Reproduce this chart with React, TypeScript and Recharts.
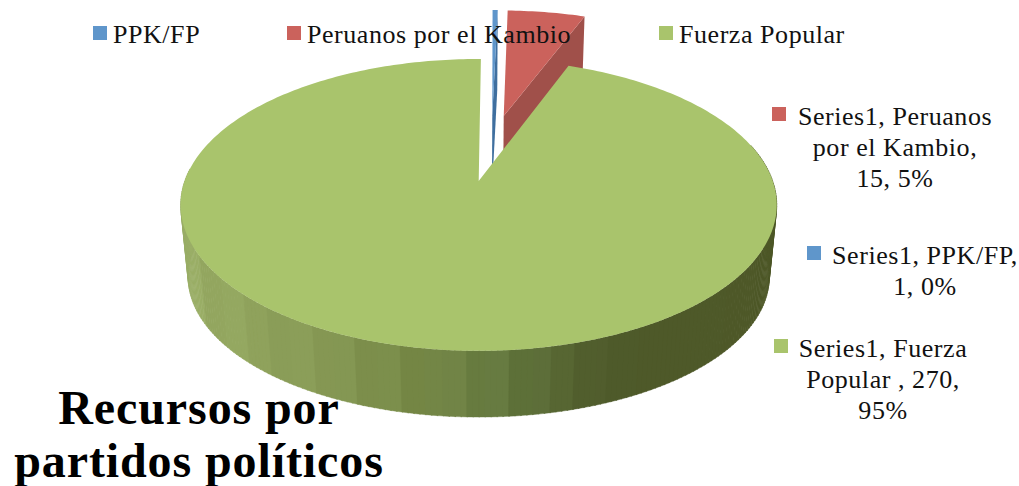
import React from 'react';
import { PieChart, Pie, Cell, Legend } from 'recharts';

const PARTIES = ['PPK/FP', 'Peruanos por el Kambio', 'Fuerza Popular'];
const RESOURCES = [1, 15, 270];
const PERCENT_LABELS = ['0%', '5%', '95%'];
const LABEL_LINES = [
  ['Series1, PPK/FP,', '1, 0%'],
  ['Series1, Peruanos', 'por el Kambio,', '15, 5%'],
  ['Series1, Fuerza', 'Popular , 270,', '95%'],
];
const COLORS = ['#5f96cb', '#cb625c', '#a9c46c'];
const TITLE_LINES = ['Recursos por', 'partidos políticos'];

const data = PARTIES.map((name, i) => ({ name, value: RESOURCES[i], percentLabel: PERCENT_LABELS[i] }));

const FONT = '"Liberation Serif", serif';
const WIDTH = 1019;
const HEIGHT = 486;

// perspective of the pie plane
const PERSP = 0.164;
const RY = 142;

// where the label of each slice sits
const LABEL_POS = [
  { x: 925, y: 264, sx: 807, sy: 246 },
  { x: 895, y: 125, sx: 772, sy: 107 },
  { x: 883, y: 357, sx: 774, sy: 339 },
];
const LEGEND_POS = [93, 287, 659];

// exploded slices, in pie-plane units
const EXPLODE = [
  { u: 0.05, v: 0.5 },
  { u: 0.092, v: 0.495 },
  { u: 0, v: 0 },
];

const WALL_STOPS = [
  [0, 154, 174, 102],
  [0.37, 120, 138, 72],
  [0.537, 100, 120, 63],
  [0.705, 78, 90, 42],
  [1, 78, 88, 40],
];
const STRIPES = [0, 3, -2, 2, -3, 1, 3, -2, 2, -3, 2, 0, -1, 3];

function shade(t: number, k: number) {
  let i = 0;
  while (i < WALL_STOPS.length - 2 && t > WALL_STOPS[i + 1][0]) i++;
  const a = WALL_STOPS[i];
  const b = WALL_STOPS[i + 1];
  const f = Math.min(1, Math.max(0, (t - a[0]) / (b[0] - a[0])));
  const c = [1, 2, 3].map((j) => Math.round(a[j] + (b[j] - a[j]) * f + k));
  return `rgb(${c[0]},${c[1]},${c[2]})`;
}

function project(cx: number, cy: number, r: number, u: number, v: number, bottom = false) {
  const s = 1 / (1 + PERSP * v);
  if (!bottom) return [cx + r * u * s, cy - RY * v * s];
  return [cx + 0.975 * r * u * s, cy + 73 - 0.96 * RY * v * s];
}

const toPath = (pts: number[][]) =>
  pts.map((p, i) => `${i ? 'L' : 'M'}${p[0].toFixed(2)},${p[1].toFixed(2)}`).join(' ') + ' Z';

function Slice3D(props: any) {
  const { cx, cy, outerRadius, startAngle, endAngle, fill, index } = props;
  const idx = index ?? PARTIES.indexOf(props.name);
  const ex = EXPLODE[idx] || { u: 0, v: 0 };
  const pt = (deg: number, bottom = false) => {
    const a = (deg * Math.PI) / 180;
    return project(cx, cy, outerRadius, ex.u + Math.cos(a), ex.v + Math.sin(a), bottom);
  };
  const apex = project(cx, cy, outerRadius, ex.u, ex.v);
  const apexB = project(cx, cy, outerRadius, ex.u, ex.v, true);

  const steps = Math.max(2, Math.ceil(Math.abs(endAngle - startAngle)));
  const arc: number[][] = [];
  for (let i = 0; i <= steps; i++) arc.push(pt(startAngle + ((endAngle - startAngle) * i) / steps));

  const walls: React.ReactNode[] = [];
  if (idx === 2) {
    // outer wall, shaded in bands about 22px wide like the original
    for (let d = 175; d < 375; d += 1) {
      const a0 = pt(d);
      const a1 = pt(d + 1.2);
      const b1 = pt(d + 1.2, true);
      const b0 = pt(d, true);
      const band = Math.floor(a0[0] / 22);
      const t = (band * 22 + 11 - 180) / 596;
      const k = a0[0] > 605 ? 0 : STRIPES[band % STRIPES.length];
      const col = shade(t, k);
      walls.push(<path key={d} d={toPath([a0, a1, b1, b0])} fill={col} stroke={col} strokeWidth={0.4} />);
    }
  } else {
    const col = idx === 1 ? '#a0504a' : '#3f6f9f';
    walls.push(<path key="cut" d={toPath([apex, pt(endAngle), pt(endAngle, true), apexB])} fill={col} />);
  }

  return (
    <g>
      {walls}
      <path d={toPath([apex, ...arc])} fill={fill} />
    </g>
  );
}

function renderLabel(props: any) {
  const i = props.index;
  const pos = LABEL_POS[i];
  return (
    <g key={i}>
      <rect x={pos.sx} y={pos.sy} width={14} height={14} fill={COLORS[i]} />
      <text x={pos.x} y={pos.y} textAnchor="middle" fontFamily={FONT} fontSize={26} letterSpacing={0.55} fill="#111">
        {LABEL_LINES[i].map((line, j) => (
          <tspan key={j} x={pos.x} y={pos.y + j * 31}>
            {line}
          </tspan>
        ))}
      </text>
    </g>
  );
}

function renderLegend(props: any) {
  return (
    <div style={{ position: 'relative', width: WIDTH, height: 0 }}>
      {(props.payload || []).map((item: any, i: number) => (
        <div key={i} style={{ position: 'absolute', left: LEGEND_POS[i], top: 0, whiteSpace: 'nowrap' }}>
          <span style={{ position: 'absolute', left: 0, top: 26, width: 14, height: 14, background: COLORS[i] }} />
          <span
            style={{
              position: 'absolute',
              left: 20,
              top: 19.5,
              fontFamily: FONT,
              fontSize: 26,
              letterSpacing: 0.55,
              lineHeight: '30px',
              color: '#111',
            }}
          >
            {item.value}
          </span>
        </div>
      ))}
    </div>
  );
}

export default function App() {
  return (
    <div style={{ position: 'absolute', left: 0, top: 0, width: WIDTH, height: HEIGHT, background: '#fff', overflow: 'hidden' }}>
      <PieChart width={WIDTH} height={HEIGHT} margin={{ top: 0, right: 0, bottom: 0, left: 0 }}>
        <Pie
          data={data}
          dataKey="value"
          nameKey="name"
          cx={478.7}
          cy={181}
          outerRadius={294}
          startAngle={89.5}
          endAngle={-270.5}
          stroke="none"
          isAnimationActive={false}
          labelLine={false}
          label={renderLabel}
          shape={Slice3D}
        >
          {data.map((entry, index) => (
            <Cell key={`cell-${index}`} fill={COLORS[index]} />
          ))}
        </Pie>
        <Legend
          content={renderLegend}
          verticalAlign="bottom"
          itemSorter={null}
          wrapperStyle={{ position: 'absolute', left: 0, top: 0, width: WIDTH, height: 0 }}
        />
      </PieChart>
      <div
        style={{
          position: 'absolute',
          left: 0,
          top: 381,
          width: 398,
          textAlign: 'center',
          fontFamily: FONT,
          fontWeight: 700,
          fontSize: 48,
          letterSpacing: 0.9,
          lineHeight: '53px',
          color: '#000',
        }}
      >
        {TITLE_LINES.map((line) => (
          <div key={line}>{line}</div>
        ))}
      </div>
    </div>
  );
}
